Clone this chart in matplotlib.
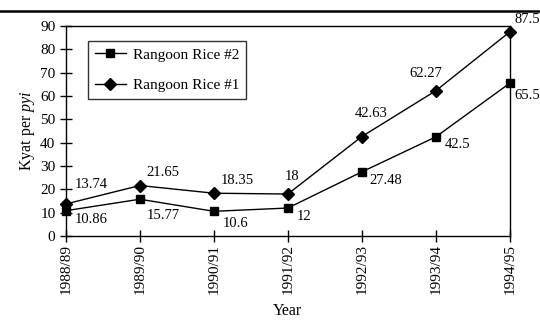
import matplotlib
matplotlib.use("Agg")
import matplotlib.pyplot as plt
from matplotlib.lines import Line2D

years = ["1988/89", "1989/90", "1990/91", "1991/92", "1992/93", "1993/94", "1994/95"]
rice2 = [10.86, 15.77, 10.6, 12, 27.48, 42.5, 65.5]
rice1 = [13.74, 21.65, 18.35, 18, 42.63, 62.27, 87.5]
labels2 = ["10.86", "15.77", "10.6", "12", "27.48", "42.5", "65.5"]
labels1 = ["13.74", "21.65", "18.35", "18", "42.63", "62.27", "87.5"]

plt.rcParams["font.family"] = ["Liberation Serif", "DejaVu Serif"]
plt.rcParams["mathtext.fontset"] = "custom"
plt.rcParams["mathtext.it"] = "Liberation Serif:italic"
plt.rcParams["mathtext.rm"] = "Liberation Serif"

fig = plt.figure(figsize=(5.4, 3.26), dpi=100)
ax = fig.add_axes([0.122, 0.276, 0.822, 0.644])

x = list(range(len(years)))
ax.plot(x, rice2, color="black", lw=1, marker="s", ms=6, label="Rangoon Rice #2", clip_on=False, zorder=3)
ax.plot(x, rice1, color="black", lw=1, marker="D", ms=6.5, label="Rangoon Rice #1", clip_on=False, zorder=3)

# label offsets in pixels (left edge, vertical centre)
off2 = [(9, -9), (7, -16), (9, -12), (9, -8), (8, -9), (9, -8), (5, -12)]
off1 = [(9, 19), (7, 13), (7, 13), (-3, 18), (-7, 23), (-26, 17), (5, 12)]
for i in x:
    ax.annotate(labels2[i], (i, rice2[i]), xytext=off2[i], textcoords="offset pixels",
                ha="left", va="center", fontsize=10.5, annotation_clip=False)
    ax.annotate(labels1[i], (i, rice1[i]), xytext=off1[i], textcoords="offset pixels",
                ha="left", va="center", fontsize=10.5, annotation_clip=False)

ax.set_xlim(0, 6)
ax.set_ylim(0, 90)
ax.set_yticks(range(0, 91, 10))
ax.set_xticks(x)
ax.set_xticklabels(years, rotation=90)
ax.tick_params(direction="inout", length=8, width=1, colors="black", labelsize=11)
ax.tick_params(axis="x", pad=2)
for sp in ax.spines.values():
    sp.set_linewidth(1)

ax.set_xlabel("Year", fontsize=11.5, labelpad=6)
ax.set_ylabel("Kyat per $\\it{pyi}$", fontsize=11.5, labelpad=2)

leg = ax.legend(loc="upper left", bbox_to_anchor=(0.05, 0.929), frameon=True, fancybox=False,
                edgecolor="black", fontsize=11, handlelength=2.0, handletextpad=0.5,
                borderpad=0.45, labelspacing=1.1, borderaxespad=0)
leg.get_frame().set_linewidth(1)

# horizontal rule above the chart
fig.add_artist(Line2D([0, 1], [0.967, 0.967], color="black", lw=1.8, transform=fig.transFigure))

fig.savefig("out.png", dpi=100)
